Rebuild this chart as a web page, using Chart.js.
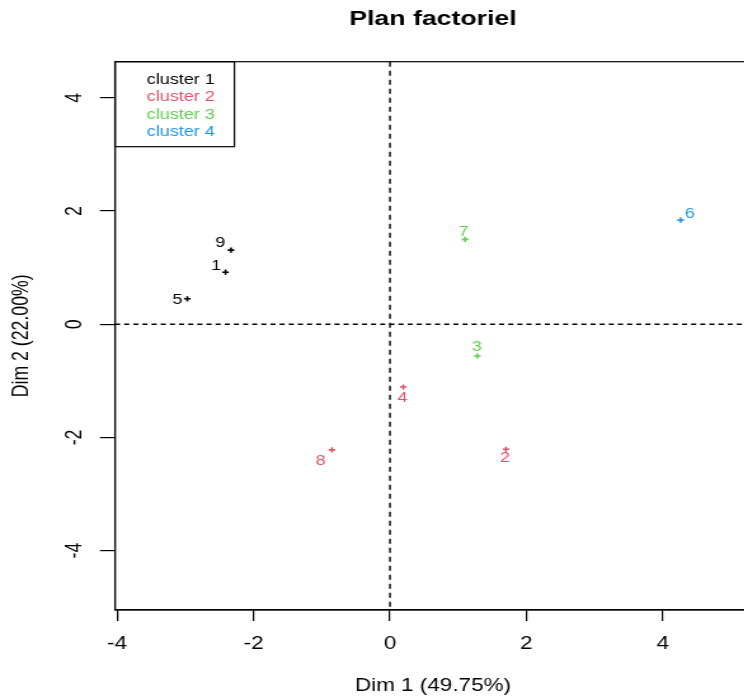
<!DOCTYPE html>
<html>
<head>
<meta charset="utf-8">
<title>Plan factoriel</title>
<script src="https://cdn.jsdelivr.net/npm/chart.js@4/dist/chart.umd.min.js"></script>
<style>
  html, body { margin: 0; padding: 0; background: #fff; overflow: hidden; width: 744px; height: 698px; }
  /* le graphique d'origine est étiré horizontalement */
  #wrap { width: 620px; height: 698px; transform: scaleX(1.27); transform-origin: 0 0; }
</style>
</head>
<body>
<div id="wrap"><canvas id="plan" width="620" height="698"></canvas></div>
<script>
const clusterNames = ['cluster 1', 'cluster 2', 'cluster 3', 'cluster 4'];
const clusterColors = ['#000000', '#DF536B', '#61D04F', '#2297E6'];

const c1Labels = ['1', '5', '9'];
const c1Dim1 = [-2.41, -2.97, -2.33];
const c1Dim2 = [0.92, 0.45, 1.31];

const c2Labels = ['2', '4', '8'];
const c2Dim1 = [1.70, 0.195, -0.85];
const c2Dim2 = [-2.21, -1.11, -2.22];

const c3Labels = ['3', '7'];
const c3Dim1 = [1.28, 1.10];
const c3Dim2 = [-0.56, 1.50];

const c4Labels = ['6'];
const c4Dim1 = [4.26];
const c4Dim2 = [1.84];

const xTicks = [-4, -2, 0, 2, 4];
const yTicks = [-4, -2, 0, 2, 4];

// décalage des étiquettes par rapport au point (px)
const c1Shift = [[-7.3, -6.6], [-7.9, 1], [-8.4, -6.7]];
const c2Shift = [[-0.6, 9], [-0.5, 11], [-8.9, 11.7]];
const c3Shift = [[-0.5, -8.7], [-1.3, -7.6]];
const c4Shift = [[7.3, -6]];

const FONT = "'Liberation Sans', Arial, sans-serif";

const groupes = [
    [c1Labels, c1Dim1, c1Dim2, c1Shift],
    [c2Labels, c2Dim1, c2Dim2, c2Shift],
    [c3Labels, c3Dim1, c3Dim2, c3Shift],
    [c4Labels, c4Dim1, c4Dim2, c4Shift]
];

const datasets = groupes.map((g, k) => ({
    label: clusterNames[k],
    data: g[1].map((x, i) => ({ x: x, y: g[2][i] })),
    noms: g[0],
    decalages: g[3],
    pointStyle: 'cross',
    pointRadius: 2.6,
    pointBorderWidth: 1.6,
    borderColor: clusterColors[k],
    backgroundColor: clusterColors[k]
}));

// cadre, axes en pointillés, étiquettes et légende
const cadrePlugin = {
    id: 'cadre',
    beforeDatasetsDraw(chart) {
        const { ctx, chartArea: a, scales: { x, y } } = chart;
        ctx.save();
        ctx.strokeStyle = '#000';
        ctx.lineWidth = 1.2;
        ctx.strokeRect(a.left, a.top, a.right - a.left, a.bottom - a.top);

        const x0 = x.getPixelForValue(0);
        const y0 = y.getPixelForValue(0);
        ctx.lineWidth = 1.4;
        ctx.setLineDash([5, 4]);
        ctx.beginPath();
        ctx.moveTo(x0, a.top);
        ctx.lineTo(x0, a.bottom);
        ctx.stroke();
        ctx.setLineDash([4, 3.2]);
        ctx.lineWidth = 1.6;
        ctx.beginPath();
        ctx.moveTo(a.left, y0);
        ctx.lineTo(a.right, y0);
        ctx.stroke();
        ctx.restore();
    },
    afterDatasetsDraw(chart) {
        const { ctx, chartArea: a } = chart;
        ctx.save();
        ctx.font = '14.2px ' + FONT;
        ctx.textAlign = 'center';
        ctx.textBaseline = 'middle';
        chart.data.datasets.forEach((ds, k) => {
            const meta = chart.getDatasetMeta(k);
            meta.data.forEach((pt, i) => {
                ctx.fillStyle = ds.borderColor;
                ctx.fillText(ds.noms[i], pt.x + ds.decalages[i][0], pt.y + ds.decalages[i][1]);
            });
        });

        // légende
        ctx.strokeStyle = '#000';
        ctx.lineWidth = 1.2;
        ctx.strokeRect(a.left, a.top, 94, 85);
        ctx.textAlign = 'left';
        chart.data.datasets.forEach((ds, k) => {
            ctx.fillStyle = ds.borderColor;
            ctx.fillText(ds.label, a.left + 25, a.top + 18.3 + k * 17.4);
        });
        ctx.restore();
    }
};

new Chart(document.getElementById('plan'), {
    type: 'scatter',
    data: { datasets: datasets },
    options: {
        responsive: false,
        animation: false,
        layout: { padding: { left: 0, right: 28.7, top: 0, bottom: 0 } },
        plugins: {
            legend: { display: false },
            tooltip: { enabled: false },
            title: {
                display: true,
                text: 'Plan factoriel',
                fullSize: false,
                color: '#000',
                font: { family: FONT, size: 21, weight: 'bold' },
                padding: { top: 6.4, bottom: 30.1 }
            }
        },
        scales: {
            x: {
                type: 'linear',
                min: -4.03,
                max: 5.29,
                afterBuildTicks: s => { s.ticks = xTicks.map(v => ({ value: v })); },
                afterFit: s => { s.height = 88; },
                grid: { drawOnChartArea: false, drawTicks: true, tickLength: 11, color: '#000', lineWidth: 1.2 },
                border: { display: true, color: '#000', width: 1.2 },
                ticks: { color: '#000', font: { family: FONT, size: 17.7 }, padding: 12, maxRotation: 0, callback: v => String(v) },
                title: { display: true, text: 'Dim 1 (49.75%)', color: '#000', font: { family: FONT, size: 17.7 }, padding: { top: 0, bottom: 1 } }
            },
            y: {
                type: 'linear',
                min: -5.05,
                max: 4.64,
                afterBuildTicks: s => { s.ticks = yTicks.map(v => ({ value: v })); },
                afterFit: s => { s.width = 90.55; },
                grid: { drawOnChartArea: false, drawTicks: true, tickLength: 11.8, color: '#000', lineWidth: 1.2 },
                border: { display: true, color: '#000', width: 1.2 },
                ticks: { color: '#000', font: { family: FONT, size: 17.7 }, padding: 11.5, minRotation: 90, maxRotation: 90, crossAlign: 'center', callback: v => String(v) },
                title: { display: true, text: 'Dim 2 (22.00%)', color: '#000', font: { family: FONT, size: 17.7 }, padding: { top: 6.7, bottom: 0 } }
            }
        }
    },
    plugins: [cadrePlugin]
});
</script>
</body>
</html>
